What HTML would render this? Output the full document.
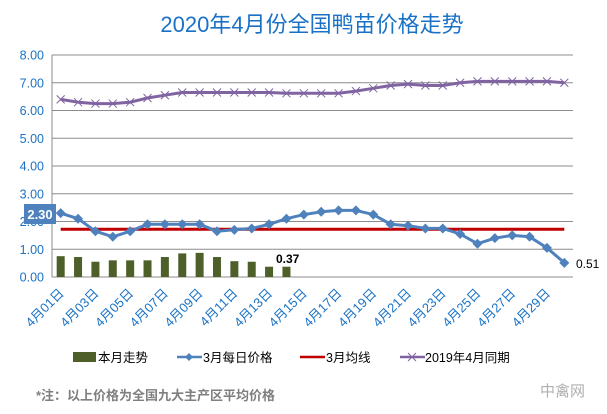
<!DOCTYPE html>
<html><head><meta charset="utf-8"><style>
html,body{margin:0;padding:0;background:#fff;width:607px;height:414px;overflow:hidden}
svg text{font-family:"Liberation Sans","Noto Sans CJK SC",sans-serif}
</style></head><body>
<svg id="c" width="607" height="414" xmlns="http://www.w3.org/2000/svg">
<text x="312" y="32" text-anchor="middle" font-size="22" fill="#1a72c6">2020年4月份全国鸭苗价格走势</text>
<g id="g"></g>
<g font-size="12.5" fill="#000">
<rect x="73" y="352" width="23" height="10" fill="#4e5f2a"/><text x="98" y="362">本月走势</text>
<line x1="177" y1="357" x2="202" y2="357" stroke="#4f81bd" stroke-width="2.5"/><path d="M189 353l4 4-4 4-4-4z" fill="#4f81bd"/><text x="203" y="362">3月每日价格</text>
<line x1="300" y1="357" x2="325" y2="357" stroke="#c00000" stroke-width="2.5"/><text x="326" y="362">3月均线</text>
<line x1="400" y1="357" x2="425" y2="357" stroke="#8064a2" stroke-width="2.5"/><path d="M408 353l8 8M416 353l-8 8" stroke="#8064a2"/><text x="425" y="362">2019年4月同期</text>
</g>
<text x="36" y="400" font-size="13" font-weight="bold" fill="#7f7f7f">*注：以上价格为全国九大主产区平均价格</text>
<text x="540" y="396" font-size="15" fill="#b0b0b0">中禽网</text>
</svg>
<script>
var g=document.getElementById('g'),s='';
var X0=52,X1=573,Y0=277,S=27.75,W=(X1-X0)/30;
function y(v){return Y0-v*S}function x(i){return X0+W/2+W*i}
for(var k=0;k<=8;k++){var yy=y(k);s+='<line x1="'+X0+'" x2="'+X1+'" y1="'+yy+'" y2="'+yy+'" stroke="#8c8c8c" stroke-width="1"/>';
s+='<text x="44" y="'+(yy+4.5)+'" text-anchor="end" font-size="12.5" fill="#1a72c6">'+k+'.00</text>';}
s+='<line x1="'+X0+'" x2="'+X0+'" y1="'+y(8)+'" y2="'+Y0+'" stroke="#8c8c8c"/>';
var bars=[0.75,0.72,0.55,0.60,0.60,0.60,0.72,0.85,0.87,0.72,0.57,0.55,0.37,0.37];
bars.forEach(function(v,i){s+='<rect x="'+(x(i)-4)+'" y="'+y(v)+'" width="8" height="'+(v*S)+'" fill="#4e5f2a"/>'});
var b=[2.30,2.10,1.65,1.45,1.65,1.90,1.90,1.90,1.90,1.65,1.70,1.75,1.90,2.10,2.25,2.35,2.40,2.40,2.25,1.90,1.85,1.75,1.75,1.55,1.20,1.40,1.50,1.45,1.05,0.51];
var p=[6.40,6.30,6.25,6.25,6.30,6.45,6.55,6.65,6.65,6.65,6.65,6.65,6.65,6.62,6.62,6.62,6.62,6.70,6.80,6.90,6.95,6.90,6.90,7.00,7.05,7.05,7.05,7.05,7.05,7.00];
function pl(a){return a.map(function(v,i){return x(i).toFixed(1)+','+y(v).toFixed(1)}).join(' ')}
s+='<line x1="'+x(0)+'" x2="'+x(29)+'" y1="'+y(1.72)+'" y2="'+y(1.72)+'" stroke="#c00000" stroke-width="3"/>';
s+='<polyline points="'+pl(p)+'" fill="none" stroke="#8064a2" stroke-width="3" stroke-linejoin="round"/>';
p.forEach(function(v,i){var a=x(i),c=y(v);s+='<path d="M'+(a-4)+' '+(c-4)+'l8 8M'+(a+4)+' '+(c-4)+'l-8 8" stroke="#8064a2" stroke-width="1"/>'});
s+='<polyline points="'+pl(b)+'" fill="none" stroke="#4f81bd" stroke-width="3" stroke-linejoin="round"/>';
b.forEach(function(v,i){var a=x(i),c=y(v);s+='<path d="M'+a+' '+(c-5)+'l5 5-5 5-5-5z" fill="#4f81bd"/>'});
s+='<rect x="24" y="204" width="32" height="20" fill="#4f81bd"/><text x="40" y="219" text-anchor="middle" font-size="13" font-weight="bold" fill="#fff">2.30</text>';
s+='<text x="276" y="263" font-size="12" font-weight="bold" fill="#000">0.37</text>';
s+='<text x="576" y="268" font-size="12" fill="#000">0.51</text>';
for(var i=0;i<30;i+=2){var a=x(i);s+='<text transform="translate('+(a+4)+',294) rotate(-45)" text-anchor="end" font-size="13" fill="#1a72c6">4月'+(i<9?'0':'')+(i+1)+'日</text>';}
g.innerHTML=s;
</script>
</body></html>
